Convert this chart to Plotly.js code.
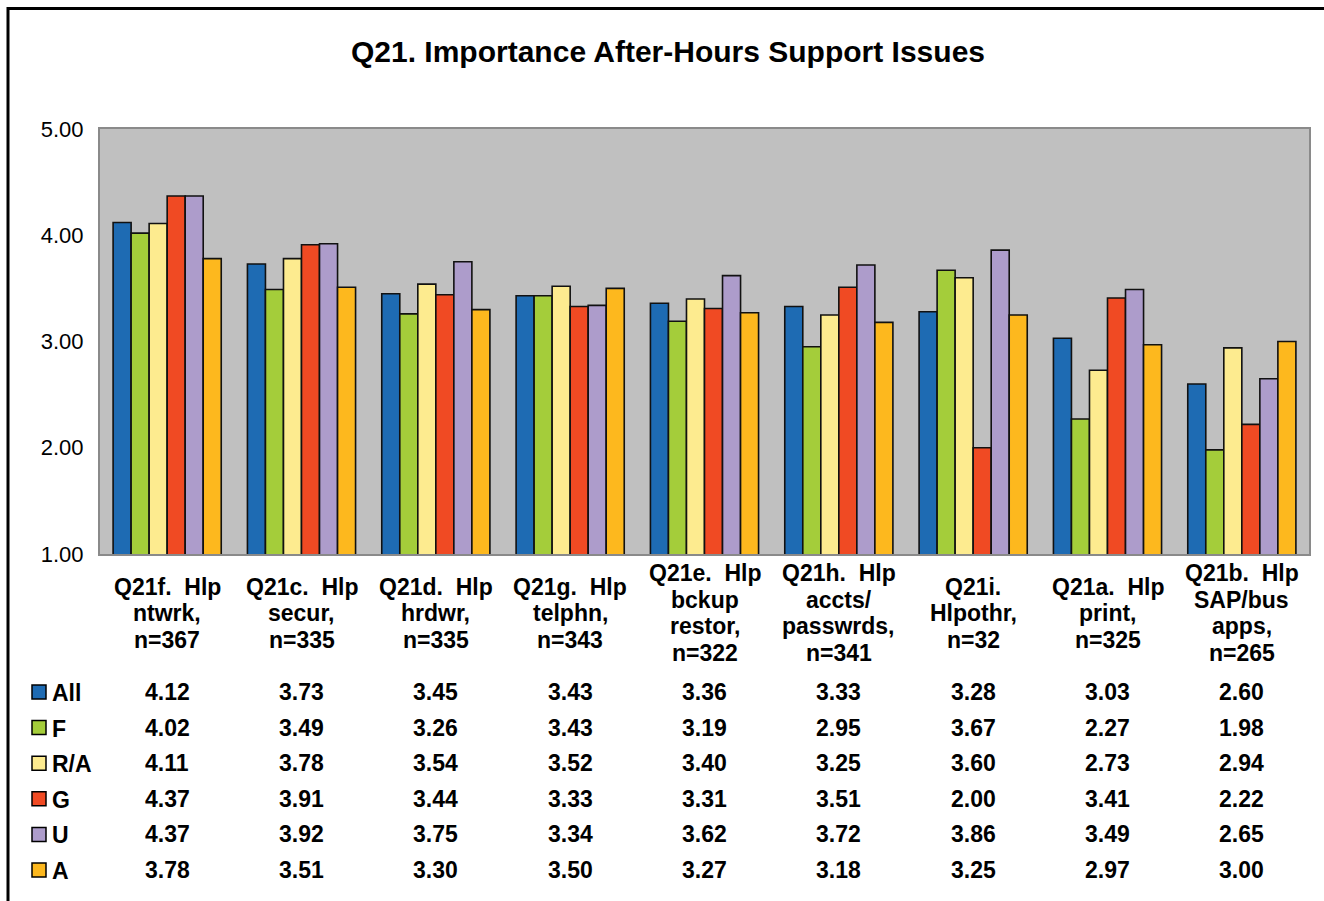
<!DOCTYPE html>
<html>
<head>
<meta charset="utf-8">
<script src="https://cdn.plot.ly/plotly-3.0.1.min.js"></script>
<style>
  html, body { margin: 0; padding: 0; background: #ffffff; }
  #chart { width: 1324px; height: 901px; }
</style>
</head>
<body>
<div id="chart"></div>
<script>
// ---- data ----
const categories = [
  "Q21f.  Hlp<br>ntwrk,<br>n=367",
  "Q21c.  Hlp<br>secur,<br>n=335",
  "Q21d.  Hlp<br>hrdwr,<br>n=335",
  "Q21g.  Hlp<br>telphn,<br>n=343",
  "Q21e.  Hlp<br>bckup<br>restor,<br>n=322",
  "Q21h.  Hlp<br>accts/<br>passwrds,<br>n=341",
  "Q21i.<br>Hlpothr,<br>n=32",
  "Q21a.  Hlp<br>print,<br>n=325",
  "Q21b.  Hlp<br>SAP/bus<br>apps,<br>n=265"
];
const seriesNames = ["All", "F", "R/A", "G", "U", "A"];
const seriesColors = ["#1E6BB3", "#A4CD3A", "#FDEB8F", "#F04A23", "#AD9CCB", "#FDB81E"];
const valuesAll = [4.12, 3.73, 3.45, 3.43, 3.36, 3.33, 3.28, 3.03, 2.60];
const valuesF   = [4.02, 3.49, 3.26, 3.43, 3.19, 2.95, 3.67, 2.27, 1.98];
const valuesRA  = [4.11, 3.78, 3.54, 3.52, 3.40, 3.25, 3.60, 2.73, 2.94];
const valuesG   = [4.37, 3.91, 3.44, 3.33, 3.31, 3.51, 2.00, 3.41, 2.22];
const valuesU   = [4.37, 3.92, 3.75, 3.34, 3.62, 3.72, 3.86, 3.49, 2.65];
const valuesA   = [3.78, 3.51, 3.30, 3.50, 3.27, 3.18, 3.25, 2.97, 3.00];
const yTicks = [1, 2, 3, 4, 5];
const titleText = "Q21. Importance After-Hours Support Issues";

const seriesValues = [valuesAll, valuesF, valuesRA, valuesG, valuesU, valuesA];

// ---- layout geometry (pixels) ----
const W = 1324, H = 901;
const M = { l: 100, r: 15, t: 129, b: 347 };
const PW = W - M.l - M.r, PH = H - M.t - M.b;
const px2x = p => (p - M.l) / PW;
const py2y = p => (H - M.b - p) / PH;

const FONT = "Liberation Sans, Arial, sans-serif";

const traces = seriesNames.map((name, i) => ({
  type: "bar",
  name: name,
  x: categories,
  y: seriesValues[i],
  marker: { color: seriesColors[i], line: { color: "#111111", width: 1.6 } },
  hoverinfo: "x+y+name"
}));

const annotations = [];
const shapes = [];

// category labels, one annotation per line, vertically centred
const catCenterY = 613, catLineH = 26.5;
categories.forEach(cat => {
  const lines = cat.split("<br>");
  lines.forEach((ln, j) => {
    const py = catCenterY + (j - (lines.length - 1) / 2) * catLineH;
    annotations.push({
      xref: "x", yref: "paper", x: cat, y: py2y(py),
      text: ln.replace(/  /g, " \u00a0"), showarrow: false,
      xanchor: "center", yanchor: "middle",
      font: { family: FONT, size: 23, color: "#000", weight: "bold" }
    });
  });
});

// data table
const rowY0 = 692, rowStep = 35.6;
seriesNames.forEach((name, i) => {
  const py = rowY0 + i * rowStep;
  shapes.push({
    type: "rect", xref: "paper", yref: "paper",
    x0: px2x(32), x1: px2x(46), y0: py2y(py + 7), y1: py2y(py - 7),
    fillcolor: seriesColors[i], line: { color: "#000", width: 1.5 }
  });
  annotations.push({
    xref: "paper", yref: "paper", x: px2x(50), y: py2y(py + 1),
    text: name, showarrow: false, xanchor: "left", yanchor: "middle",
    font: { family: FONT, size: 23, color: "#000", weight: "bold" }
  });
  seriesValues[i].forEach((v, k) => {
    annotations.push({
      xref: "x", yref: "paper", x: categories[k], y: py2y(py),
      text: v.toFixed(2), showarrow: false, xanchor: "center", yanchor: "middle",
      font: { family: FONT, size: 23, color: "#000", weight: "bold" }
    });
  });
});

// outer chart frame (top and left edges visible)
shapes.push({
  type: "path", xref: "paper", yref: "paper",
  path: `M ${px2x(8)} ${py2y(H + 5)} L ${px2x(8)} ${py2y(8.5)} L ${px2x(W + 5)} ${py2y(8.5)}`,
  line: { color: "#000", width: 3 }
});

const layout = {
  width: W, height: H,
  margin: M,
  paper_bgcolor: "#ffffff",
  plot_bgcolor: "#C0C0C0",
  showlegend: false,
  barmode: "group",
  bargap: 0.195,
  bargroupgap: 0,
  title: {
    text: "<b>" + titleText + "</b>",
    xref: "container", yref: "container",
    x: 668 / W, y: 1 - 51 / H, xanchor: "center", yanchor: "middle",
    font: { family: FONT, size: 30, color: "#000" }
  },
  xaxis: {
    type: "category",
    showticklabels: false,
    ticks: "",
    showgrid: false,
    zeroline: false,
    showline: true, mirror: true, linecolor: "#8a8a8a", linewidth: 2
  },
  yaxis: {
    range: [1, 5],
    tickvals: yTicks,
    tickformat: ".2f",
    ticks: "",
    ticklabelstandoff: 10,
    showgrid: false,
    zeroline: false,
    showline: true, mirror: true, linecolor: "#8a8a8a", linewidth: 2,
    tickfont: { family: FONT, size: 22, color: "#000" }
  },
  annotations: annotations,
  shapes: shapes
};

Plotly.newPlot("chart", traces, layout, { displayModeBar: false, staticPlot: true });
</script>
</body>
</html>
